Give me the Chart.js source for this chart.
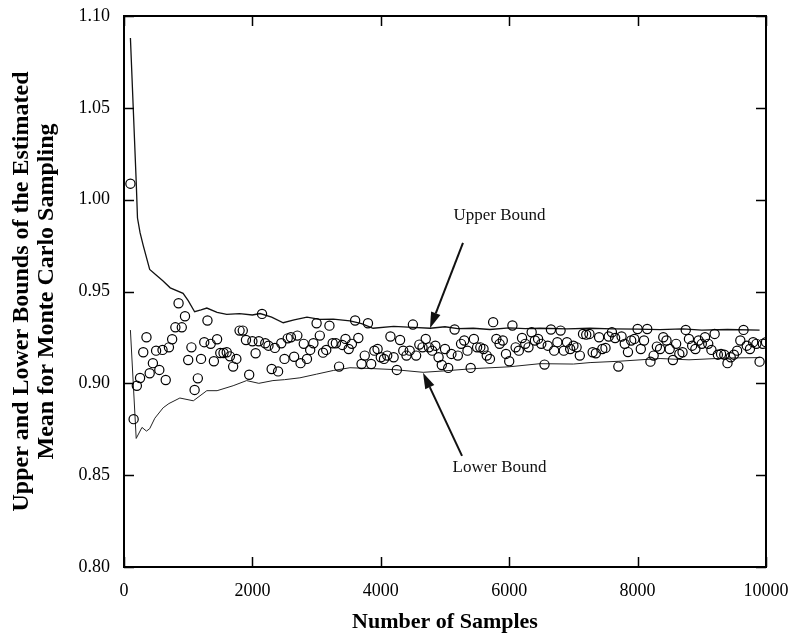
<!DOCTYPE html>
<html>
<head>
<meta charset="utf-8">
<script src="https://cdn.jsdelivr.net/npm/chart.js@4/dist/chart.umd.min.js"></script>
<style>
  html, body { margin: 0; padding: 0; background: #fff; }
  #wrap { width: 795px; height: 638px; position: relative; }
</style>
</head>
<body>
<div id="wrap"><canvas id="c" width="795" height="638"></canvas></div>
<script>
// ---------------- data ----------------
const sampleSizes = [
  100,150,200,250,300,350,400,450,500,550,600,650,700,750,800,850,900,950,1000,1050,
  1100,1150,1200,1250,1300,1350,1400,1450,1500,1550,1600,1650,1700,1750,1800,1850,1900,1950,2000,2050,
  2100,2150,2200,2250,2300,2350,2400,2450,2500,2550,2600,2650,2700,2750,2800,2850,2900,2950,3000,3050,
  3100,3150,3200,3250,3300,3350,3400,3450,3500,3550,3600,3650,3700,3750,3800,3850,3900,3950,4000,4050,
  4100,4150,4200,4250,4300,4350,4400,4450,4500,4550,4600,4650,4700,4750,4800,4850,4900,4950,5000,5050,
  5100,5150,5200,5250,5300,5350,5400,5450,5500,5550,5600,5650,5700,5750,5800,5850,5900,5950,6000,6050,
  6100,6150,6200,6250,6300,6350,6400,6450,6500,6550,6600,6650,6700,6750,6800,6850,6900,6950,7000,7050,
  7100,7150,7200,7250,7300,7350,7400,7450,7500,7550,7600,7650,7700,7750,7800,7850,7900,7950,8000,8050,
  8100,8150,8200,8250,8300,8350,8400,8450,8500,8550,8600,8650,8700,8750,8800,8850,8900,8950,9000,9050,
  9100,9150,9200,9250,9300,9350,9400,9450,9500,9550,9600,9650,9700,9750,9800,9850,9900,9950,10000
];
const estimatedMeans = [
  1.0087,0.8805,0.8987,0.9029,0.9169,0.9251,0.9055,0.9110,0.9178,0.9073,
  0.9182,0.9018,0.9196,0.9240,0.9305,0.9436,0.9305,0.9365,0.9127,0.9196,
  0.8964,0.9027,0.9133,0.9224,0.9342,0.9215,0.9120,0.9240,0.9165,0.9165,
  0.9169,0.9147,0.9091,0.9133,0.9287,0.9287,0.9236,0.9047,0.9229,0.9164,
  0.9229,0.9378,0.9218,0.9205,0.9078,0.9193,0.9065,0.9218,0.9133,0.9245,
  0.9251,0.9145,0.9260,0.9110,0.9215,0.9133,0.9182,0.9218,0.9327,0.9260,
  0.9167,0.9182,0.9314,0.9218,0.9218,0.9091,0.9209,0.9242,0.9187,
  0.9215,0.9342,0.9247,0.9105,0.9151,0.9327,0.9105,0.9178,0.9187,0.9142,
  0.9133,0.9151,0.9255,0.9142,0.9073,0.9236,0.9178,0.9151,0.9178,0.9320,
  0.9151,0.9211,0.9196,0.9242,0.9196,0.9178,0.9205,0.9142,0.9100,0.9187,
  0.9084,0.9160,0.9293,0.9151,0.9215,0.9233,0.9178,0.9084,0.9242,0.9196,
  0.9196,0.9187,0.9151,0.9133,0.9333,0.9242,0.9215,0.9233,0.9160,0.9120,
  0.9315,0.9196,0.9178,0.9247,0.9215,0.9196,0.9278,0.9233,0.9242,0.9215,
  0.9102,0.9205,0.9293,0.9178,0.9224,
  0.9287,0.9178,0.9224,0.9187,0.9205,0.9196,0.9151,0.9269,0.9265,0.9269,
  0.9169,0.9164,0.9251,0.9187,0.9193,0.9255,0.9278,0.9247,0.9091,0.9255,
  0.9215,0.9170,0.9233,0.9242,0.9296,0.9187,0.9233,0.9296,0.9118,0.9151,
  0.9200,0.9187,0.9251,0.9233,0.9187,0.9127,0.9215,0.9160,0.9169,0.9291,
  0.9242,0.9205,0.9187,0.9233,0.9215,0.9251,0.9215,0.9182,0.9269,0.9156,
  0.9160,0.9156,0.9110,0.9142,0.9156,0.9178,0.9233,0.9291,0.9205,0.9187,
  0.9224,0.9215,0.9118,0.9215,0.9224
];

const upperN = [100,190,210,250,300,400,500,600,720,920,1000,1100,1200,1290,1450,1600,1800,2000,2120,2300,2480,2650,2850,3050,3260,3520,3700,3880,4200,4500,4770,5000,5200,5440,5700,6000,6250,6480,6900,7260,7600,8000,8350,8700,9000,9400,9900];
const upperBound = [1.088,1.010,0.990,0.982,0.975,0.962,0.959,0.956,0.952,0.949,0.945,0.939,0.940,0.941,0.9386,0.9375,0.938,0.9372,0.938,0.936,0.933,0.9345,0.936,0.9348,0.935,0.934,0.9325,0.930,0.931,0.9305,0.930,0.9308,0.9298,0.930,0.9293,0.9302,0.9298,0.930,0.9296,0.930,0.9297,0.9295,0.9292,0.9296,0.929,0.9293,0.929];

const lowerN = [100,190,280,350,400,480,610,700,870,1080,1290,1450,1700,1910,2100,2320,2500,2740,3000,3260,3520,3880,4200,4660,5000,5440,6000,6480,7000,7260,7700,8350,8800,9400,9900];
const lowerBound = [0.929,0.870,0.876,0.874,0.8753,0.881,0.8867,0.889,0.892,0.8905,0.896,0.896,0.8987,0.9015,0.900,0.9015,0.902,0.903,0.905,0.907,0.9085,0.908,0.9075,0.906,0.9068,0.908,0.909,0.9107,0.9105,0.9113,0.912,0.9135,0.9128,0.9138,0.914];

const xTickValues = [0, 2000, 4000, 6000, 8000, 10000];
const yTickValues = [0.80, 0.85, 0.90, 0.95, 1.00, 1.05, 1.10];

const annotations = [
  { text: 'Upper Bound', labelAt: [5850, 0.9915], from: [5280, 0.9765], to: [4766, 0.9300] },
  { text: 'Lower Bound', labelAt: [5850, 0.8540], from: [5265, 0.8605], to: [4657, 0.9058] }
];

// -------------- chart ---------------
const toPts = (xs, ys) => xs.map((x, i) => ({ x: x, y: ys[i] }));

const framePlugin = {
  id: 'frameTicks',
  afterDatasetsDraw(chart) {
    const { ctx, chartArea: a, scales: { x, y } } = chart;
    ctx.save();
    ctx.strokeStyle = '#000';
    ctx.lineWidth = 1.5;
    const tl = 10;
    xTickValues.forEach(v => {
      const px = Math.round(x.getPixelForValue(v)) + 0.5;
      ctx.beginPath();
      ctx.moveTo(px, a.bottom); ctx.lineTo(px, a.bottom - tl);
      ctx.moveTo(px, a.top); ctx.lineTo(px, a.top + tl);
      ctx.stroke();
    });
    yTickValues.forEach(v => {
      const py = Math.round(y.getPixelForValue(v)) + 0.5;
      ctx.beginPath();
      ctx.moveTo(a.left, py); ctx.lineTo(a.left + tl, py);
      ctx.moveTo(a.right, py); ctx.lineTo(a.right - tl, py);
      ctx.stroke();
    });
    ctx.lineWidth = 2;
    ctx.strokeRect(a.left, a.top, a.right - a.left, a.bottom - a.top);

    ctx.fillStyle = '#111';
    ctx.strokeStyle = '#111';
    ctx.font = '17px "Liberation Serif", "Times New Roman", serif';
    ctx.textAlign = 'center';
    ctx.textBaseline = 'middle';
    annotations.forEach(an => {
      const lx = x.getPixelForValue(an.labelAt[0]);
      const ly = y.getPixelForValue(an.labelAt[1]);
      ctx.fillText(an.text, lx, ly);
      const x0 = x.getPixelForValue(an.from[0]), y0 = y.getPixelForValue(an.from[1]);
      const x1 = x.getPixelForValue(an.to[0]), y1 = y.getPixelForValue(an.to[1]);
      const ang = Math.atan2(y1 - y0, x1 - x0);
      const hl = 16, hw = 5;
      const bx = x1 - hl * Math.cos(ang), by = y1 - hl * Math.sin(ang);
      ctx.lineWidth = 2;
      ctx.beginPath();
      ctx.moveTo(x0, y0); ctx.lineTo(bx, by);
      ctx.stroke();
      ctx.beginPath();
      ctx.moveTo(x1, y1);
      ctx.lineTo(bx + hw * Math.sin(ang), by - hw * Math.cos(ang));
      ctx.lineTo(bx - hw * Math.sin(ang), by + hw * Math.cos(ang));
      ctx.closePath();
      ctx.fill();
    });
    ctx.restore();
  }
};

const serif = '"Liberation Serif", "Times New Roman", serif';

new Chart(document.getElementById('c'), {
  type: 'scatter',
  data: {
    datasets: [
      {
        label: 'Upper Bound',
        data: toPts(upperN, upperBound),
        showLine: true, pointRadius: 0, borderColor: '#111', borderWidth: 1.3,
        tension: 0, order: 2
      },
      {
        label: 'Lower Bound',
        data: toPts(lowerN, lowerBound),
        showLine: true, pointRadius: 0, borderColor: '#222', borderWidth: 1,
        tension: 0, order: 3
      },
      {
        label: 'Estimated Mean',
        data: toPts(sampleSizes, estimatedMeans),
        showLine: false, pointRadius: 4.6, pointStyle: 'circle',
        borderColor: '#000', borderWidth: 1.2, backgroundColor: 'rgba(0,0,0,0)',
        order: 1
      }
    ]
  },
  options: {
    responsive: false,
    animation: false,
    devicePixelRatio: 1,
    layout: { padding: { top: 16, right: 29, bottom: 0, left: 0 } },
    plugins: { legend: { display: false }, tooltip: { enabled: false } },
    scales: {
      x: {
        type: 'linear', min: 0, max: 10000,
        afterBuildTicks: s => { s.ticks = xTickValues.map(v => ({ value: v })); },
        afterFit: s => { s.height = 71; s.paddingLeft = 0; s.paddingRight = 0; },
        grid: { display: false, drawTicks: false },
        border: { display: false },
        ticks: {
          color: '#000', padding: 13, maxRotation: 0,
          font: { family: serif, size: 18 },
          callback: v => String(v)
        },
        title: {
          display: true, text: 'Number of Samples', color: '#000',
          font: { family: serif, size: 22, weight: 'bold', lineHeight: 1.05 },
          padding: { top: 0, bottom: 4 }
        }
      },
      y: {
        type: 'linear', min: 0.8, max: 1.1,
        afterBuildTicks: s => { s.ticks = yTickValues.map(v => ({ value: v })); },
        afterFit: s => { s.width = 124; s.paddingTop = 0; s.paddingBottom = 0; },
        grid: { display: false, drawTicks: false },
        border: { display: false },
        ticks: {
          color: '#000', padding: 14,
          font: { family: serif, size: 18 },
          callback: v => Number(v).toFixed(2)
        },
        title: {
          display: true,
          text: ['Upper and Lower Bounds of the Estimated', 'Mean for Monte Carlo Sampling'],
          color: '#000',
          font: { family: serif, size: 24, weight: 'bold', lineHeight: 1.05 },
          padding: { top: 9, bottom: 0 }
        }
      }
    }
  },
  plugins: [framePlugin]
});
</script>
</body>
</html>
